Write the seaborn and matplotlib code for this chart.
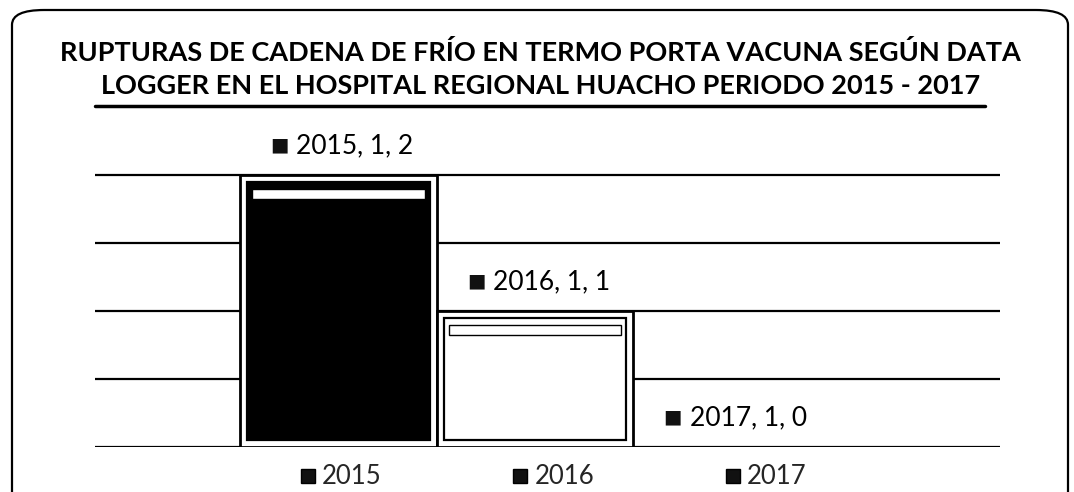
import matplotlib
matplotlib.use("Agg")
import matplotlib.pyplot as plt
from matplotlib.patches import FancyBboxPatch, Rectangle
from matplotlib.lines import Line2D
import pandas as pd
import seaborn as sns

anios = ["2015", "2016", "2017"]
grupo = ["1", "1", "1"]
valores = [2, 1, 0]
colores = ["#000000", "#ffffff", "#000000"]
titulo = ("RUPTURAS DE CADENA DE FRÍO EN TERMO PORTA VACUNA SEGÚN DATA\n"
          "LOGGER EN EL HOSPITAL REGIONAL HUACHO PERIODO 2015 - 2017")

sns.set_theme(style="white")
plt.rcParams['font.family'] = ['Lato', 'DejaVu Sans']

df = pd.DataFrame({"anio": anios, "grupo": grupo, "valor": valores})

W, H = 1074, 492
fig = plt.figure(figsize=(W / 100, H / 100), dpi=100)
fig.patch.set_facecolor("white")

# rounded frame of the scanned chart
frame = FancyBboxPatch((12 / W, -40 / H), 1056 / W, (H - 10 + 40) / H,
                       boxstyle="round,pad=0,rounding_size=0.03",
                       transform=fig.transFigure, fill=False,
                       edgecolor="black", linewidth=1.6)
fig.patches.append(frame)

fig.text(0.503, 1 - 69 / H, titulo, ha="center", va="center", fontsize=19.5,
         fontweight="bold", linespacing=1.42, color="black")
fig.add_artist(Line2D([95 / W, 985 / W], [1 - 106 / H] * 2, transform=fig.transFigure,
                      color="black", linewidth=2.5))

ax_l, ax_r, ax_b, ax_t = 95, 1000, 447, 127
ax = fig.add_axes([ax_l / W, 1 - ax_b / H, (ax_r - ax_l) / W, (ax_b - ax_t) / H])
ymax = 2 * (ax_b - ax_t) / (447 - 175)

sns.barplot(data=df, x="grupo", y="valor", hue="anio", hue_order=anios,
            palette=colores, edgecolor="black", linewidth=2.0, width=0.652,
            saturation=1, legend=False, ax=ax)

d = (547.5 - 535) / (ax_r - ax_l)
ax.set_xlim(-0.5 + d, 0.5 + d)
ax.set_ylim(0, ymax)
ax.set_yticks([0, 0.5, 1, 1.5, 2])
ax.yaxis.grid(True, color="black", linewidth=1.6)
ax.set_axisbelow(True)
ax.tick_params(left=False, bottom=False, labelleft=False, labelbottom=False)
ax.set_xlabel("")
ax.set_ylabel("")
for s in ax.spines.values():
    s.set_visible(False)

# bevel: white band inside each bar, then inner panel
px_x = 1.0 / (ax_r - ax_l)
px_y = ymax / (ax_b - ax_t)
barras = [p for p in ax.patches if isinstance(p, Rectangle)][:3]
for p in barras:
    p.set_facecolor("white")
for p, c in zip(barras, colores):
    h = p.get_height()
    if h <= 0:
        continue
    x0, w = p.get_x(), p.get_width()
    ax.add_patch(Rectangle((x0 + 7 * px_x, 7 * px_y), w - 14 * px_x, h - 14 * px_y,
                           facecolor=c, edgecolor="black", linewidth=1.6, zorder=3))
    ax.add_patch(Rectangle((x0 + 12 * px_x, h - 24 * px_y), w - 24 * px_x, 10 * px_y,
                           facecolor="white", edgecolor="black", linewidth=1.0, zorder=4))

# data labels (marker + text)
xs = [p.get_x() + p.get_width() / 2 for p in barras]
for x, a, g, v in zip(xs, anios, grupo, valores):
    ax.annotate(f"{a}, {g}, {v}", xy=(x, v), xytext=(12, 21),
                textcoords="offset points", ha="center", va="center",
                fontsize=19, color="black", annotation_clip=False)
    ax.annotate("■", xy=(x, v), xytext=(-42.5, 21.5),
                textcoords="offset points", ha="center", va="center",
                fontsize=14, color="#111111", annotation_clip=False,
                family=['DejaVu Sans'])

# legend
handles = [Line2D([], [], marker="s", linestyle="", markersize=10,
                  markerfacecolor="#111111", markeredgecolor="black") for _ in anios]
fig.legend(handles, anios, loc="center", bbox_to_anchor=(0.514, 1 - 477 / H),
           ncol=3, frameon=False, handletextpad=0.15,
           columnspacing=5.0, handlelength=0.8, borderpad=0,
           prop={'family': ['Lato', 'DejaVu Sans'], 'size': 18.5})

fig.savefig("out.png", dpi=100)
